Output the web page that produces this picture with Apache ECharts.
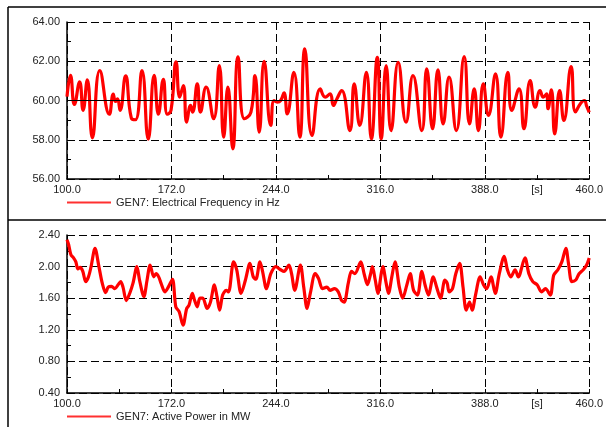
<!DOCTYPE html>
<html>
<head>
<meta charset="utf-8">
<script src="https://cdn.jsdelivr.net/npm/echarts@6/dist/echarts.min.js"></script>
<style>
html,body{margin:0;padding:0;background:#fff;}
#c{width:606px;height:427px;}
</style>
</head>
<body>
<div id="c"></div>
<script>
// ---- Data ----
const freqName = 'GEN7: Electrical Frequency in Hz';
const powName = 'GEN7: Active Power in MW';
const xMajorTicks = [100, 172, 244, 316, 388, 460];
const unitLabel = '[s]';
const unitLabelAt = 424;
const freqRef = 60;

const freqT = [100, 102.4, 105.1, 108.7, 111.1, 114.0, 117.5, 122.6, 129.2, 131.9, 133.4, 134.8, 136.6, 140.4, 144.3, 147.2, 151.7, 156.0, 160.1, 163.0, 166.4, 169.2, 171.7, 175.2, 177.7, 180.2, 182.5, 185.2, 186.6, 189.8, 192.0, 195.9, 201.1, 205.0, 208.0, 210.9, 214.3, 217.9, 222.3, 226.8, 229.6, 232.5, 235.9, 240.5, 242.7, 245.0, 247.3, 249.6, 251.8, 256.4, 260.5, 263.9, 268.9, 274.6, 278.0, 281.4, 283.6, 286.0, 289.3, 295.0, 298.0, 301.8, 306.4, 309.8, 313.9, 316.6, 320.0, 323.4, 328.3, 333.7, 338.5, 344.6, 348.0, 352.0, 355.7, 359.3, 363.4, 368.4, 373.8, 377.5, 380.7, 383.6, 387.0, 390.5, 395.4, 399.1, 403.9, 406.6, 411.6, 415.0, 419.3, 422.8, 426.1, 428.3, 430.6, 431.6, 433.9, 436.2, 439.6, 442.5, 447.5, 450.5, 454.0, 456.6, 458.3, 460.0];
const freqV = [60.2, 61.28, 59.8, 60.95, 59.5, 61.05, 58.1, 61.52, 59.3, 60.32, 59.95, 60.08, 59.5, 61.25, 59.12, 59.02, 61.52, 58.03, 61.28, 59.3, 61.08, 59.3, 59.5, 61.97, 60.17, 60.76, 58.9, 59.75, 59.41, 60.85, 59.41, 60.68, 59.07, 61.78, 58.13, 60.68, 57.54, 62.23, 59.07, 59.41, 61.27, 58.39, 62.0, 58.73, 60.0, 59.92, 60.0, 60.39, 59.32, 61.44, 58.13, 62.63, 58.22, 60.59, 60.17, 60.34, 59.75, 60.08, 60.51, 58.47, 60.85, 58.73, 61.44, 58.05, 62.2, 58.05, 61.78, 58.47, 61.95, 58.9, 61.27, 58.47, 61.61, 58.56, 61.56, 58.81, 61.19, 58.47, 62.24, 58.81, 60.59, 58.47, 60.85, 59.24, 61.36, 58.13, 61.44, 59.5, 60.6, 58.56, 61.02, 59.66, 60.51, 60.17, 60.34, 59.58, 60.54, 58.3, 60.51, 58.98, 61.73, 59.42, 59.85, 60.0, 59.7, 59.4];

const powT = [100, 101.1, 102.7, 104.5, 106.1, 107.5, 109.1, 110.9, 112.9, 114.8, 116.6, 119.3, 122.0, 124.3, 126.6, 128.4, 130.7, 133.0, 135.2, 137.0, 138.6, 140.9, 143.2, 145.5, 148.2, 150.0, 153.0, 155.2, 157.3, 159.8, 161.4, 163.2, 164.8, 167.5, 169.8, 172.7, 175.0, 177.3, 180.0, 182.5, 184.1, 186.4, 188.0, 189.8, 191.6, 193.6, 196.6, 198.9, 201.6, 203.4, 205.2, 207.3, 209.8, 211.4, 214.8, 217.0, 220.0, 223.0, 226.1, 228.4, 230.2, 233.0, 234.8, 237.5, 240.5, 243.9, 247.3, 249.6, 253.0, 254.8, 257.0, 260.9, 263.2, 265.5, 267.7, 271.1, 273.4, 276.1, 279.1, 281.4, 284.3, 287.0, 289.3, 291.1, 293.9, 296.1, 298.4, 302.5, 304.8, 307.1, 309.3, 310.5, 312.5, 314.3, 316.6, 317.7, 320.0, 321.6, 323.9, 326.1, 329.1, 331.4, 334.3, 336.6, 338.9, 341.6, 344.6, 346.8, 349.1, 352.5, 354.8, 357.5, 360.5, 362.1, 363.4, 365.7, 368.0, 370.7, 373.0, 375.2, 377.5, 379.3, 381.6, 384.8, 387.1, 389.3, 392.3, 395.2, 398.0, 401.4, 403.6, 405.9, 408.9, 411.1, 415.7, 418.4, 421.1, 424.1, 427.1, 429.8, 433.2, 435.5, 438.4, 441.1, 443.9, 445.7, 448.0, 450.7, 453.0, 455.9, 458.2, 460.0];
const powV = [2.34, 2.28, 2.15, 2.11, 2.06, 1.97, 1.99, 1.94, 1.81, 1.87, 2.0, 2.23, 2.0, 1.79, 1.67, 1.74, 1.75, 1.72, 1.77, 1.81, 1.74, 1.57, 1.66, 1.79, 2.0, 1.83, 1.62, 1.83, 2.02, 1.87, 1.91, 1.87, 1.79, 1.68, 1.74, 1.84, 1.49, 1.43, 1.26, 1.47, 1.51, 1.66, 1.57, 1.49, 1.60, 1.60, 1.47, 1.55, 1.77, 1.62, 1.45, 1.64, 1.70, 1.68, 2.06, 1.96, 1.66, 1.83, 2.04, 1.87, 1.84, 2.06, 1.94, 1.72, 1.91, 2.0, 1.96, 1.94, 2.02, 1.91, 1.70, 2.02, 1.74, 1.47, 1.66, 1.91, 1.85, 1.72, 1.74, 1.70, 1.72, 1.68, 1.57, 1.55, 1.79, 1.94, 1.91, 2.06, 1.91, 1.77, 1.91, 2.0, 1.83, 1.66, 1.91, 2.0, 1.79, 1.66, 1.87, 2.06, 1.74, 1.60, 1.77, 1.91, 1.70, 1.64, 1.94, 1.77, 1.64, 1.87, 1.74, 1.60, 1.83, 1.79, 1.68, 1.72, 1.91, 2.04, 1.74, 1.45, 1.55, 1.45, 1.64, 1.87, 1.77, 1.72, 1.87, 1.66, 1.91, 2.13, 1.96, 1.87, 1.96, 1.87, 2.11, 1.91, 1.81, 1.77, 1.68, 1.72, 1.64, 1.89, 1.96, 2.06, 2.23, 2.04, 1.81, 1.83, 1.91, 1.96, 2.02, 2.11];

// ---- Chart ----
const FONT = 'Liberation Sans, Arial, sans-serif';
const RED = '#ff0000';
const gridLine = { show: true, lineStyle: { color: '#000', width: 1, type: [8, 4] } };

function pairs(t, v) { return t.map((x, i) => [x, v[i]]); }

function xMain(gridIndex) {
  return {
    type: 'value', gridIndex, min: 100, max: 460, interval: 72, position: 'bottom',
    axisLine: { show: true, onZero: false, lineStyle: { color: '#000', width: 1.5 } },
    axisTick: { show: false },
    axisLabel: { margin: 5, color: '#222', fontSize: 11, fontFamily: FONT,
      alignMinLabel: 'center', alignMaxLabel: 'center',
      formatter: v => v.toFixed(1) },
    splitLine: gridLine
  };
}
function xMinor(gridIndex) {
  return {
    type: 'value', gridIndex, min: 100, max: 460, interval: 36, position: 'bottom',
    axisLine: { show: false, onZero: false },
    axisTick: { show: true, inside: true, length: 4, lineStyle: { color: '#000', width: 1 } },
    axisLabel: { margin: 5, color: '#222', fontSize: 11, fontFamily: FONT,
      formatter: v => (Math.abs(v - unitLabelAt) < 1e-6 ? unitLabel : '') },
    splitLine: { show: false }
  };
}
function yAxisOf(gridIndex, min, max, interval) {
  return {
    type: 'value', gridIndex, min, max, interval,
    axisLine: { show: true, onZero: false, lineStyle: { color: '#000', width: 1.5 } },
    axisTick: { show: true, inside: true, length: 4, lineStyle: { color: '#000' } },
    minorTick: { show: true, splitNumber: 2, length: 4, lineStyle: { color: '#000', width: 1 } },
    axisLabel: { margin: 7, color: '#222', fontSize: 11, fontFamily: FONT,
      formatter: v => v.toFixed(2) },
    splitLine: gridLine
  };
}

const chart = echarts.init(document.getElementById('c'), null, { renderer: 'canvas' });
chart.setOption({
  backgroundColor: '#fff',
  animation: false,
  grid: [
    { left: 67, top: 22, width: 528, height: 157 },
    { left: 67, top: 235, width: 528, height: 158 }
  ],
  xAxis: [xMain(0), xMinor(0), xMain(1), xMinor(1)],
  yAxis: [yAxisOf(0, 56, 64, 2), yAxisOf(1, 0.4, 2.4, 0.4)],
  legend: [
    { data: [freqName], left: 67, top: 197, padding: 0, icon: 'rect', itemWidth: 44, itemHeight: 2,
      itemStyle: { color: '#ff3030' }, textStyle: { color: '#222', fontSize: 11, fontFamily: FONT } },
    { data: [powName], left: 67, top: 411, padding: 0, icon: 'rect', itemWidth: 44, itemHeight: 2,
      itemStyle: { color: '#ff3030' }, textStyle: { color: '#222', fontSize: 11, fontFamily: FONT } }
  ],
  graphic: [
    { type: 'line', shape: { x1: 8, y1: 7, x2: 606, y2: 7 }, style: { stroke: '#000', lineWidth: 1.5 } },
    { type: 'line', shape: { x1: 8, y1: 7, x2: 8, y2: 427 }, style: { stroke: '#000', lineWidth: 1.5 } },
    { type: 'line', shape: { x1: 8, y1: 220, x2: 606, y2: 220 }, style: { stroke: '#000', lineWidth: 1.5 } }
  ],
  series: [
    { name: freqName, type: 'line', xAxisIndex: 0, yAxisIndex: 0, data: pairs(freqT, freqV),
      showSymbol: false, smooth: 0.5, lineStyle: { color: RED, width: 3.2 }, itemStyle: { color: RED },
      markLine: { silent: true, symbol: ['none', 'none'], label: { show: false },
        lineStyle: { color: '#000', width: 1, type: 'solid' }, data: [{ yAxis: freqRef }] },
      z: 3 },
    { name: powName, type: 'line', xAxisIndex: 2, yAxisIndex: 1, data: pairs(powT, powV),
      showSymbol: false, smooth: 0.3, lineStyle: { color: RED, width: 3.2 }, itemStyle: { color: RED }, z: 3 }
  ]
});
</script>
</body>
</html>
